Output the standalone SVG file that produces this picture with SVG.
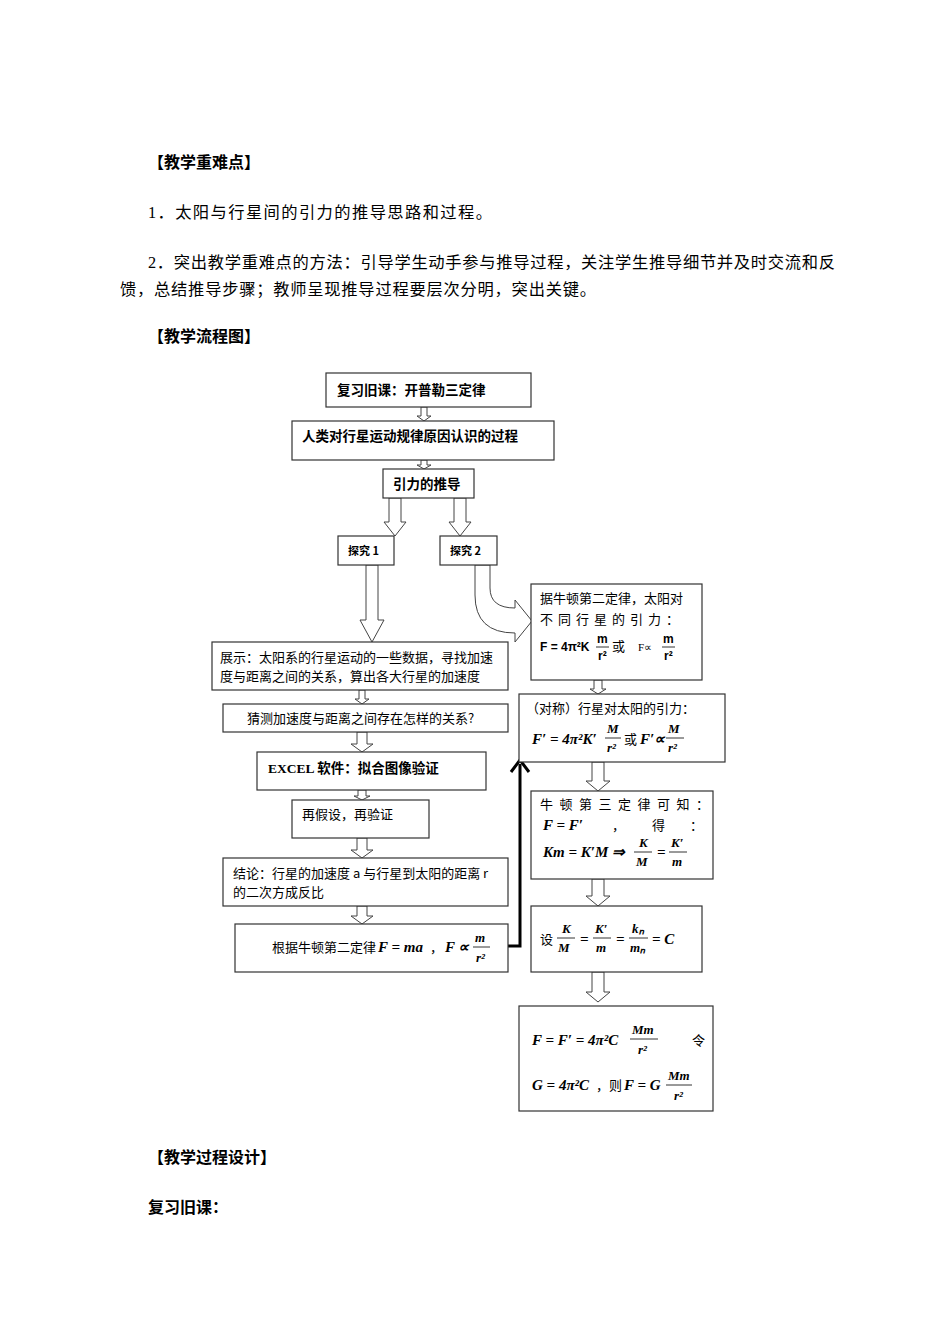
<svg xmlns="http://www.w3.org/2000/svg" width="950" height="1344" viewBox="0 0 950 1344">
<style>
.t{font-family:"Liberation Serif","Noto Sans CJK SC",serif;font-size:16.3px;fill:#000}
.h{font-family:"Liberation Serif","Noto Sans CJK SC",serif;font-size:16px;font-weight:bold}
.n{font-family:"Noto Sans CJK SC",sans-serif;font-size:13px}
.nb{font-family:"Noto Sans CJK SC",sans-serif;font-size:13.5px;font-weight:bold}
.m{font-family:"Liberation Serif",serif;font-size:15px;font-weight:bold;font-style:italic}
.s{font-family:"Liberation Serif",serif;font-size:13px;font-weight:bold;font-style:italic}
.box{fill:#fff;stroke:#333;stroke-width:1.2}
.ar{fill:#fff;stroke:#444;stroke-width:1}
.fl{stroke:#000;stroke-width:0.8}
</style>
<rect width="950" height="1344" fill="#fff"/>
<text class="h" x="148" y="168">【教学重难点】</text>
<text class="t" x="148" y="218" textLength="344">1．太阳与行星间的引力的推导思路和过程。</text>
<text class="t" x="148" y="268" textLength="687">2．突出教学重难点的方法：引导学生动手参与推导过程，关注学生推导细节并及时交流和反</text>
<text class="t" x="120" y="295" textLength="476">馈，总结推导步骤；教师呈现推导过程要层次分明，突出关键。</text>
<text class="h" x="148" y="342">【教学流程图】</text>
<text class="h" x="148" y="1163">【教学过程设计】</text>
<text class="h" x="148" y="1213">复习旧课：</text>

<g id="connectors">
<polygon class="ar" points="421,407 427,407 427,416 431,416 424,421 417,416 421,416"/>
<polygon class="ar" points="421,460 427,460 427,465 431,465 424,469 417,465 421,465"/>
<polygon class="ar" points="389,498 401,498 401,522 406,522 395,536 384,522 389,522"/>
<polygon class="ar" points="454,498 466,498 466,522 471,522 460,536 449,522 454,522"/>
<polygon class="ar" points="366,565 378,565 378,620 384,620 372,642 360,620 366,620"/>
<polygon class="ar" points="359,690 365,690 365,699 369,699 362,704 355,699 359,699"/>
<polygon class="ar" points="357,732 367,732 367,744 373,744 362,752 351,744 357,744"/>
<polygon class="ar" points="358,790 366,790 366,796 370,796 362,800 354,796 358,796"/>
<polygon class="ar" points="357,838 367,838 367,850 373,850 362,858 351,850 357,850"/>
<polygon class="ar" points="357,906 367,906 367,916 373,916 362,924 351,916 357,916"/>
<polygon class="ar" points="594,680 602,680 602,689 606,689 598,694 590,689 594,689"/>
<polygon class="ar" points="592,762 604,762 604,781 610,781 598,791 586,781 592,781"/>
<polygon class="ar" points="592,879 604,879 604,896 610,896 598,906 586,896 592,896"/>
<polygon class="ar" points="592,972 604,972 604,992 610,992 598,1002 586,992 592,992"/>
<path class="ar" d="M475,565 L490,565 L490,588 Q490,608 515,608 L515,600 L532,621 L515,642 L515,633 Q475,633 475,595 Z"/>
<path d="M508,946 L520,946 L520,764" fill="none" stroke="#000" stroke-width="3"/>
<path d="M511,772 L520,760 L529,772" fill="none" stroke="#000" stroke-width="3"/>
</g>

<g id="n1"><rect class="box" x="326" y="373" width="205" height="34"/><text class="nb" x="337" y="395">复习旧课：开普勒三定律</text></g>
<g id="n2"><rect class="box" x="292" y="421" width="262" height="39"/><text class="nb" x="302" y="441">人类对行星运动规律原因认识的过程</text></g>
<g id="n3"><rect class="box" x="383" y="469" width="91" height="29"/><text class="nb" x="393" y="489">引力的推导</text></g>
<g id="n4"><rect class="box" x="338" y="536" width="56" height="29"/><text class="nb" x="348" y="555" style="font-size:11px">探究 1</text></g>
<g id="n5"><rect class="box" x="440" y="536" width="57" height="29"/><text class="nb" x="450" y="555" style="font-size:11px">探究 2</text></g>
<g id="n6"><rect class="box" x="212" y="642" width="296" height="48"/>
<text class="n" x="220" y="662">展示：太阳系的行星运动的一些数据，寻找加速</text>
<text class="n" x="220" y="681">度与距离之间的关系，算出各大行星的加速度</text></g>
<g id="n7"><rect class="box" x="223" y="704" width="285" height="28"/><text class="n" x="247" y="723">猜测加速度与距离之间存在怎样的关系?</text></g>
<g id="n8"><rect class="box" x="257" y="752" width="229" height="38"/><text class="h" x="268" y="773" style="font-size:13.5px">EXCEL 软件：拟合图像验证</text></g>
<g id="n9"><rect class="box" x="292" y="800" width="137" height="38"/><text class="n" x="302" y="819">再假设，再验证</text></g>
<g id="n10"><rect class="box" x="223" y="858" width="285" height="48"/>
<text class="n" x="233" y="878">结论：行星的加速度 a 与行星到太阳的距离 r</text>
<text class="n" x="233" y="897">的二次方成反比</text></g>
<g id="n11"><rect class="box" x="235" y="924" width="273" height="48"/>
<text class="n" x="272" y="952">根据牛顿第二定律</text><text class="m" x="378" y="952">F = ma</text><text class="n" x="430" y="952">，</text><text class="m" x="445" y="952">F ∝</text>
<text class="s" x="475" y="942">m</text><line class="fl" x1="473" y1="947" x2="490" y2="947"/><text class="s" x="476" y="962">r²</text></g>
<g id="n12"><rect class="box" x="531" y="584" width="171" height="96"/>
<text class="n" x="540" y="603">据牛顿第二定律，太阳对</text>
<text class="n" x="540" y="624" letter-spacing="5">不同行星的引力：</text>
<text x="540" y="651" style="font-family:'Liberation Sans',sans-serif;font-size:12px;font-weight:bold">F = 4π²K</text>
<text x="597" y="643" style="font-family:'Liberation Sans',sans-serif;font-size:12px;font-weight:bold">m</text><line class="fl" x1="596" y1="647" x2="609" y2="647"/><text x="598" y="660" style="font-family:'Liberation Sans',sans-serif;font-size:12px;font-weight:bold">r²</text>
<text class="n" x="612" y="651">或</text>
<text x="638" y="651" style="font-family:'Liberation Serif',serif;font-size:11px">F∝</text>
<text x="663" y="643" style="font-family:'Liberation Sans',sans-serif;font-size:12px;font-weight:bold">m</text><line class="fl" x1="662" y1="647" x2="675" y2="647"/><text x="664" y="660" style="font-family:'Liberation Sans',sans-serif;font-size:12px;font-weight:bold">r²</text></g>
<g id="n13"><rect class="box" x="519" y="694" width="206" height="68"/>
<text class="n" x="526" y="713">（对称）行星对太阳的引力：</text>
<text class="m" x="532" y="744">F′ = 4π²K′</text>
<text class="s" x="607" y="733">M</text><line class="fl" x1="605" y1="738" x2="621" y2="738"/><text class="s" x="607" y="752">r²</text>
<text class="n" x="624" y="744">或</text><text class="m" x="640" y="744">F′∝</text>
<text class="s" x="668" y="733">M</text><line class="fl" x1="666" y1="738" x2="684" y2="738"/><text class="s" x="668" y="752">r²</text></g>
<g id="n14"><rect class="box" x="531" y="791" width="182" height="88"/>
<text class="n" x="540" y="809" letter-spacing="6.5">牛顿第三定律可知：</text>
<text class="m" x="543" y="830">F = F′</text><text class="n" x="612" y="830">，</text><text class="n" x="652" y="830">得</text><text class="n" x="690" y="830">：</text>
<text class="m" x="543" y="857">Km = K′M ⇒</text>
<text class="s" x="639" y="847">K</text><line class="fl" x1="634" y1="852" x2="652" y2="852"/><text class="s" x="636" y="866">M</text>
<text class="m" x="657" y="857">=</text>
<text class="s" x="671" y="847">K′</text><line class="fl" x1="669" y1="852" x2="687" y2="852"/><text class="s" x="672" y="866">m</text></g>
<g id="n15"><rect class="box" x="531" y="906" width="171" height="66"/>
<text class="n" x="540" y="944">设</text>
<text class="s" x="562" y="933">K</text><line class="fl" x1="557" y1="938" x2="575" y2="938"/><text class="s" x="558" y="952">M</text>
<text class="m" x="580" y="944">=</text>
<text class="s" x="595" y="933">K′</text><line class="fl" x1="593" y1="938" x2="611" y2="938"/><text class="s" x="596" y="952">m</text>
<text class="m" x="616" y="944">=</text>
<text class="s" x="632" y="933">kₙ</text><line class="fl" x1="629" y1="938" x2="648" y2="938"/><text class="s" x="630" y="952">mₙ</text>
<text class="m" x="652" y="944">= C</text></g>
<g id="n16"><rect class="box" x="519" y="1006" width="194" height="105"/>
<text class="m" x="532" y="1045">F = F′ = 4π²C</text>
<text class="s" x="632" y="1034">Mm</text><line class="fl" x1="630" y1="1039" x2="658" y2="1039"/><text class="s" x="638" y="1054">r²</text>
<text class="n" x="692" y="1045">令</text>
<text class="m" x="532" y="1090">G = 4π²C</text><text class="n" x="596" y="1090">，则</text><text class="m" x="624" y="1090">F = G</text>
<text class="s" x="668" y="1080">Mm</text><line class="fl" x1="666" y1="1085" x2="692" y2="1085"/><text class="s" x="674" y="1100">r²</text></g>
</svg>
